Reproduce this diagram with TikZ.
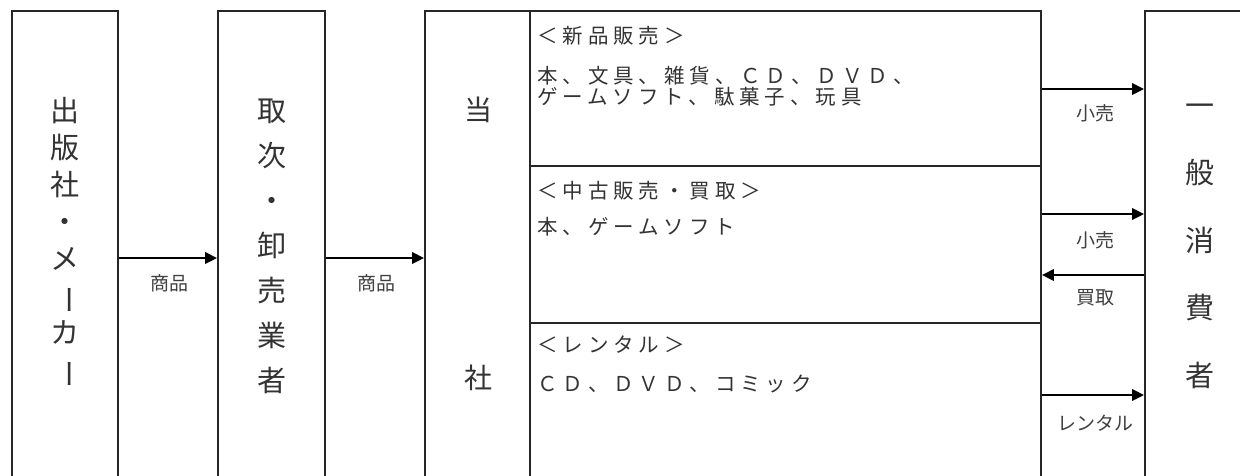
\documentclass[tikz,border=0pt]{standalone}
\usepackage{fontspec}
\usepackage{graphicx}
\setmainfont{Noto Sans CJK JP}
\newfontfamily\jpsp[LetterSpace=24]{Noto Sans CJK JP}
\usetikzlibrary{arrows.meta}
\newcommand{\vbar}{\rotatebox[origin=c]{-90}{ー}}
\tikzset{
  box/.style={draw=black!85, line width=1.6pt, rectangle, inner sep=0pt},
  divline/.style={draw=black!85, line width=1.6pt},
  arr/.style={draw=black, line width=2.8pt, -{Triangle[length=12pt,width=11pt]}},
  vlab/.style={align=center, inner sep=0pt, text=black!80},
  lab/.style={inner sep=0pt, text=black!75, font=\fontsize{19}{21}\selectfont},
  content/.style={anchor=west, inner sep=0pt, align=left, text=black!80, font=\jpsp\fontsize{20.5}{21.5}\selectfont},
}
\begin{document}
\begin{tikzpicture}[x=1pt,y=-1pt]
\useasboundingbox (0,0) rectangle (1240,475);
\clip (0,0) rectangle (1240,475);
\fill[white] (0,0) rectangle (1240,475);

% boxes (open at the bottom: extend below the picture)
\node[box, minimum width=106pt, minimum height=500pt] (pub) at (65,261) {};
\node[box, minimum width=107pt, minimum height=500pt] (tori) at (271.5,261) {};
\node[box, minimum width=616pt, minimum height=500pt] (co) at (733,261) {};
\node[box, minimum width=120pt, minimum height=500pt] (cons) at (1205,261) {};

% inner structure of the company box
\coordinate (dv) at (530,0);
\coordinate (h1) at (0,166);
\coordinate (h2) at (0,323);
\draw[divline] (dv |- co.north) -- (dv |- co.south);
\draw[divline] (dv |- h1) -- (co.east |- h1);
\draw[divline] (dv |- h2) -- (co.east |- h2);

% vertical labels
\node[vlab, font=\fontsize{29}{37}\selectfont] (pubt) at (65,243)
  {出\\版\\社\\・\\メ\\\vbar\\カ\\\vbar};
\node[vlab, font=\fontsize{29}{45}\selectfont] (torit) at (272,246)
  {取\\次\\・\\卸\\売\\業\\者};
\node[vlab, font=\fontsize{28}{28}\selectfont] (to) at (478,110) {当};
\node[vlab, font=\fontsize{28}{28}\selectfont] (sha) at (478,378) {社};
\node[vlab, font=\fontsize{29}{67.5}\selectfont] (const) at (1200,246)
  {一\\般\\消\\費\\者};

% section contents
\node[content] (s1h) at (537,36) {＜新品販売＞};
\node[content] (s1a) at (537,76) {本、文具、雑貨、ＣＤ、ＤＶＤ、};
\node[content] (s1b) at (537,97) {ゲームソフト、駄菓子、玩具};
\node[content] (s2h) at (537,191) {＜中古販売・買取＞};
\node[content] (s2a) at (537,227) {本、ゲームソフト};
\node[content] (s3h) at (537,345) {＜レンタル＞};
\node[content] (s3a) at (537,384) {ＣＤ、ＤＶＤ、コミック};

% arrows
\coordinate (ya) at (0,258);
\coordinate (yr1) at (0,89);
\coordinate (yr2) at (0,214);
\coordinate (yb) at (0,275);
\coordinate (yr3) at (0,395);
\draw[arr] (pub.east |- ya) -- (tori.west |- ya);
\draw[arr] (tori.east |- ya) -- (co.west |- ya);
\draw[arr] (co.east |- yr1) -- (cons.west |- yr1);
\draw[arr] (co.east |- yr2) -- (cons.west |- yr2);
\draw[arr] (cons.west |- yb) -- (co.east |- yb);
\draw[arr] (co.east |- yr3) -- (cons.west |- yr3);

% arrow labels
\node[lab] (l1) at (169,283) {商品};
\node[lab] (l2) at (376,283) {商品};
\node[lab] (l3) at (1095,113) {小売};
\node[lab] (l4) at (1095,240) {小売};
\node[lab] (l5) at (1095,298) {買取};
\node[lab] (l6) at (1095,423) {レンタル};
\end{tikzpicture}
\end{document}
